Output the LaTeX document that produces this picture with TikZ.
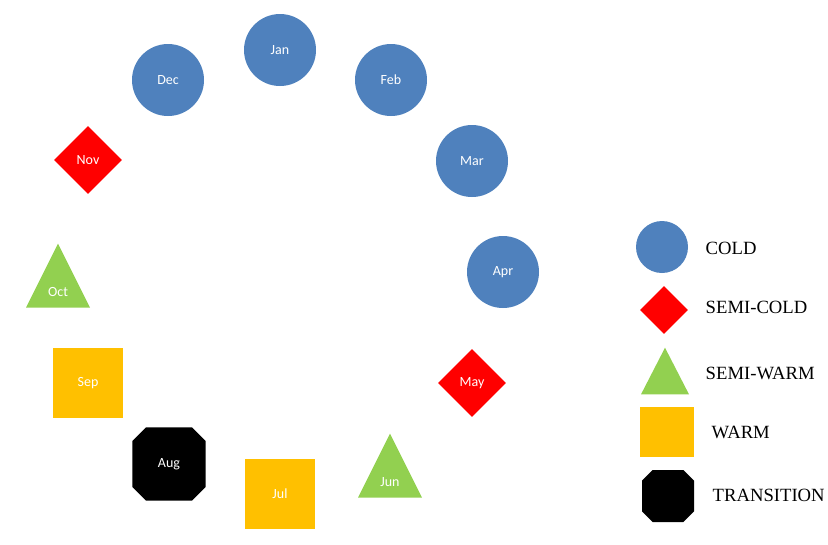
\documentclass[tikz,border=0pt]{standalone}
\usepackage{fontspec}
\setmainfont{Liberation Serif}
\newfontfamily\monthfont{Carlito}
\usetikzlibrary{shapes.geometric,shapes.misc}
\definecolor{coldblue}{RGB}{79,129,189}
\definecolor{semigreen}{RGB}{146,208,80}
\definecolor{warmyellow}{RGB}{255,192,0}
\begin{document}
\begin{tikzpicture}[x=0.75pt,y=-0.75pt,
  month/.style={text=white,font=\monthfont\fontsize{10.5}{12}\selectfont,inner sep=0pt},
  cold/.style={month,circle,fill=coldblue,minimum size=54pt},
  semicold/.style={month,diamond,fill=red,minimum size=51pt},
  semiwarm/.style={month,isosceles triangle,shape border rotate=90,isosceles triangle stretches,fill=semigreen,minimum width=48pt,minimum height=48pt},
  warm/.style={month,rectangle,fill=warmyellow,minimum size=53pt},
  transition/.style={month,chamfered rectangle,chamfered rectangle xsep=6pt,chamfered rectangle ysep=6pt,fill=black,minimum size=55pt},
  key/.style={anchor=west,font=\fontsize{14}{16}\selectfont}]
\useasboundingbox (0,0) rectangle (828,544);
% months round the year
\node[cold] (jan) at (280,50) {Jan};
\node[cold] (feb) at (391,80) {Feb};
\node[cold] (mar) at (472,161) {Mar};
\node[cold] (apr) at (503,272) {Apr};
\node[semicold] (may) at (472,383) {May};
\node[semiwarm,anchor=apex] (jun) at (390,433) {Jun};
\node[warm] (jul) at (280,494) {Jul};
\node[transition] (aug) at (169,464) {Aug};
\node[warm] (sep) at (88,383) {Sep};
\node[semiwarm,anchor=apex] (oct) at (58,243) {Oct};
\node[semicold] (nov) at (88,160) {Nov};
\node[cold] (dec) at (168,80) {Dec};
% legend
\node[cold,minimum size=39pt] (kcold) at (662,247) {};
\node[semicold,minimum size=36pt] (ksemicold) at (664,310) {};
\node[semiwarm,anchor=apex,minimum width=36pt,minimum height=35pt] (ksemiwarm) at (665,347) {};
\node[warm,minimum width=40pt,minimum height=38pt] (kwarm) at (667,432) {};
\node[transition,inner sep=10pt,minimum size=39pt,chamfered rectangle xsep=4pt,chamfered rectangle ysep=4pt] (ktransition) at (668,496) {};
\node[key] (lcold) at (701,248) {COLD};
\node[key] (lsemicold) at (701,307) {SEMI-COLD};
\node[key] (lsemiwarm) at (701,373) {SEMI-WARM};
\node[key] (lwarm) at (707,432) {WARM};
\node[key] (ltransition) at (708,495) {TRANSITION};
\end{tikzpicture}
\end{document}
